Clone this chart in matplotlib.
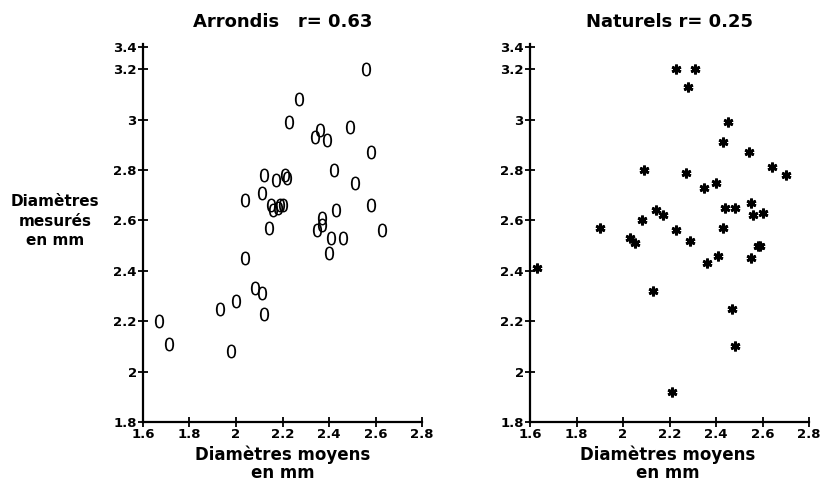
import matplotlib
matplotlib.use("Agg")
import matplotlib.pyplot as plt

# Data: Arrondis (rounded)
arr_x = [2.56, 2.27, 2.23, 2.36, 2.34, 2.39, 2.49, 2.58, 2.42, 2.51,
         2.12, 2.17, 2.21, 2.22, 2.11, 2.04, 2.15, 2.16, 2.18, 2.19,
         2.20, 2.43, 2.58, 2.63, 2.14, 2.37, 2.37, 2.35, 2.41, 2.46,
         2.40, 2.04, 2.08, 2.11, 2.00, 1.93, 2.12, 1.67, 1.71, 1.98]
arr_y = [3.20, 3.08, 2.99, 2.96, 2.93, 2.92, 2.97, 2.87, 2.80, 2.75,
         2.78, 2.76, 2.78, 2.77, 2.71, 2.68, 2.66, 2.64, 2.65, 2.66,
         2.66, 2.64, 2.66, 2.56, 2.57, 2.61, 2.58, 2.56, 2.53, 2.53,
         2.47, 2.45, 2.33, 2.31, 2.28, 2.25, 2.23, 2.20, 2.11, 2.08]

# Data: Naturels
nat_x = [2.23, 2.31, 2.28, 2.45, 2.43, 2.54, 2.64, 2.70, 2.09, 2.27,
         2.35, 2.40, 2.14, 2.17, 2.44, 2.48, 2.55, 2.56, 2.60, 2.08,
         1.90, 2.23, 2.43, 2.03, 2.05, 2.29, 2.58, 2.59, 2.55, 2.41,
         2.36, 1.63, 2.13, 2.47, 2.48, 2.21]
nat_y = [3.20, 3.20, 3.13, 2.99, 2.91, 2.87, 2.81, 2.78, 2.80, 2.79,
         2.73, 2.75, 2.64, 2.62, 2.65, 2.65, 2.67, 2.62, 2.63, 2.60,
         2.57, 2.56, 2.57, 2.53, 2.51, 2.52, 2.50, 2.50, 2.45, 2.46,
         2.43, 2.41, 2.32, 2.25, 2.10, 1.92]

titles = ["Arrondis   r= 0.63", "Naturels r= 0.25"]
x_ticks = [1.6, 1.8, 2.0, 2.2, 2.4, 2.6, 2.8]
x_labels = ["1.6", "1.8", "2", "2.2", "2.4", "2.6", "2.8"]
y_ticks = [1.8, 2.0, 2.2, 2.4, 2.6, 2.8, 3.0, 3.2, 3.29]
y_labels = ["1.8", "2", "2.2", "2.4", "2.6", "2.8", "3", "3.2", "3.4"]
xlabel = "Diamètres moyens\nen mm"
ylabel = "Diamètres\nmesurés\nen mm"

W, H = 824, 487
fig = plt.figure(figsize=(W / 100, H / 100), dpi=100)

def make_ax(left_px):
    left = left_px / W
    width = 279 / W
    bottom = (H - 422) / H
    height = (422 - 44) / H
    ax = fig.add_axes([left, bottom, width, height])
    ax.set_xlim(1.6, 2.8)
    ax.set_ylim(1.8, 3.30)
    for s in ["top", "right"]:
        ax.spines[s].set_visible(False)
    for s in ["left", "bottom"]:
        ax.spines[s].set_linewidth(1.6)
    ax.set_xticks(x_ticks)
    ax.set_xticklabels(x_labels)
    ax.set_yticks(y_ticks)
    ax.set_yticklabels(y_labels)
    ax.tick_params(direction="inout", length=7, width=1.3, labelsize=9.5, pad=1)
    for lab in ax.get_xticklabels() + ax.get_yticklabels():
        lab.set_fontweight("semibold")
    ax.patch.set_visible(False)
    return ax

ax1 = make_ax(143)
ax2 = make_ax(530)

ax1.plot(arr_x, arr_y, linestyle="none", marker="$0$", markersize=10,
         color="black", markeredgewidth=0)
ax2.plot(nat_x, nat_y, linestyle="none", marker=(6, 2, 0), markersize=7,
         color="black", markeredgewidth=2.0)

for ax, t in zip([ax1, ax2], titles):
    ax.set_title(t, fontsize=13, fontweight="bold", pad=12)

fig.text(55 / W, 1 - 221 / H, ylabel, ha="center", va="center",
         fontsize=11, fontweight="bold", linespacing=1.35)
fig.text(283 / W, 1 - 464 / H, xlabel, ha="center", va="center",
         fontsize=12, fontweight="bold", linespacing=1.0)
fig.text(668 / W, 1 - 464 / H, xlabel, ha="center", va="center",
         fontsize=12, fontweight="bold", linespacing=1.0)

fig.savefig("out.png", dpi=100, facecolor="white")
